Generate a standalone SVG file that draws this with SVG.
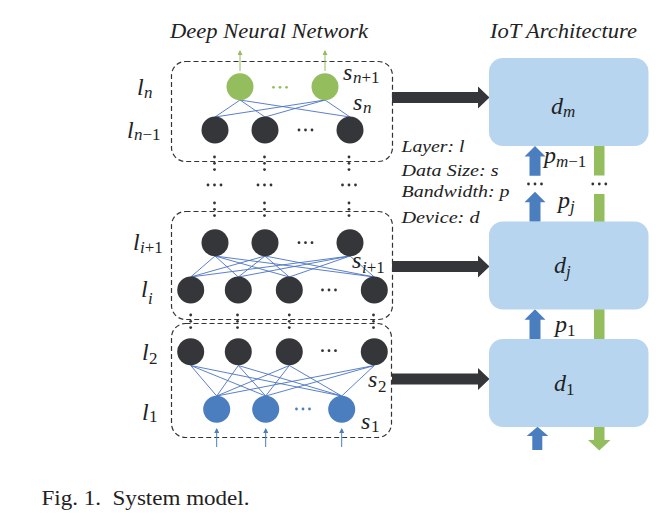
<svg xmlns="http://www.w3.org/2000/svg" width="667" height="529" viewBox="0 0 667 529">
<style>
.dash{fill:none;stroke:#333;stroke-width:1.2;stroke-dasharray:5 3}
.dk{fill:#34363a}
.gr{fill:#94bd5e}
.bl{fill:#4a7ebf}
.dev{fill:#b8d5ef}
.ln{stroke:#4a72c4;stroke-width:0.9;fill:none}
.dt{fill:#333}
.m{font-family:"Liberation Serif","Times New Roman",serif;font-style:italic;font-size:24px;fill:#222}
.sb{font-size:17px}
.up{font-style:normal}
.t{font-family:"Liberation Serif","Times New Roman",serif;font-style:italic;font-size:20px;fill:#222}
.lg{font-family:"Liberation Serif","Times New Roman",serif;font-style:italic;font-size:17px;fill:#222}
.cap{font-family:"Liberation Serif","Times New Roman",serif;font-size:20px;fill:#222}
</style>
<defs>
<marker id="ag" markerWidth="5" markerHeight="5" refX="4" refY="2.5" orient="auto" markerUnits="userSpaceOnUse"><path d="M0,0 L5,2.5 L0,5 Z" fill="#94bd5e"/></marker>
<marker id="ab" markerWidth="5" markerHeight="5" refX="4" refY="2.5" orient="auto" markerUnits="userSpaceOnUse"><path d="M0,0 L5,2.5 L0,5 Z" fill="#4a7ebf"/></marker>
<path id="bigArrow" d="M0,-5.5 H86 V-11 L97.5,0 L86,11 V5.5 H0 Z" fill="#34363a"/>
<g id="vd"><circle cx="0" cy="0" r="1.4"/><circle cx="0" cy="6.3" r="1.4"/><circle cx="0" cy="12.6" r="1.4"/></g>
<g id="hd"><circle cx="-6.5" cy="0" r="1.4"/><circle cx="0" cy="0" r="1.4"/><circle cx="6.5" cy="0" r="1.4"/></g>
</defs>

<text class="t" x="170" y="38" textLength="198" lengthAdjust="spacingAndGlyphs">Deep Neural Network</text>
<text class="t" x="490" y="38" textLength="147" lengthAdjust="spacingAndGlyphs">IoT Architecture</text>

<!-- layer boxes -->
<g id="box-top"><rect class="dash" x="171.5" y="61.5" width="221" height="100" rx="14"/></g>
<g id="box-mid"><rect class="dash" x="171.5" y="211.5" width="221" height="108" rx="14"/></g>
<g id="box-bot"><rect class="dash" x="171.5" y="323.5" width="220" height="114" rx="14"/></g>

<!-- connectors -->
<g id="connectors">
<g class="ln">
<path d="M240,100 L215,117 M240,100 L265,117 M240,100 L350,117 M325,100 L215,117 M325,100 L265,117 M325,100 L350,117"/>
<path d="M215,256 L190.7,277 M215,256 L238.3,277 M215,256 L289.3,277 M215,256 L374.3,277 M265,256 L190.7,277 M265,256 L238.3,277 M265,256 L289.3,277 M265,256 L374.3,277 M350,256 L190.7,277 M350,256 L238.3,277 M350,256 L289.3,277 M350,256 L374.3,277"/>
<path d="M190.7,365.5 L216.7,396 M190.7,365.5 L265.7,396 M190.7,365.5 L341.7,396 M238.3,365.5 L216.7,396 M238.3,365.5 L265.7,396 M238.3,365.5 L341.7,396 M289.3,365.5 L216.7,396 M289.3,365.5 L265.7,396 M289.3,365.5 L341.7,396 M374.3,365.5 L216.7,396 M374.3,365.5 L265.7,396 M374.3,365.5 L341.7,396"/>
</g>
<line x1="240" y1="71" x2="240" y2="51" stroke="#94bd5e" stroke-width="1" marker-end="url(#ag)"/>
<line x1="325" y1="71" x2="325" y2="51" stroke="#94bd5e" stroke-width="1" marker-end="url(#ag)"/>
<line x1="216.7" y1="447" x2="216.7" y2="429" stroke="#4a7ebf" stroke-width="1" marker-end="url(#ab)"/>
<line x1="265.7" y1="447" x2="265.7" y2="429" stroke="#4a7ebf" stroke-width="1" marker-end="url(#ab)"/>
<line x1="341.7" y1="447" x2="341.7" y2="429" stroke="#4a7ebf" stroke-width="1" marker-end="url(#ab)"/>
<g class="dt">
<use href="#vd" x="214.5" y="157"/><use href="#hd" x="214.5" y="185"/><use href="#vd" x="214.5" y="203"/>
<use href="#vd" x="264.5" y="157"/><use href="#hd" x="264.5" y="185"/><use href="#vd" x="264.5" y="203"/>
<use href="#vd" x="349" y="157"/><use href="#hd" x="349" y="185"/><use href="#vd" x="349" y="203"/>
<use href="#vd" x="190.7" y="315"/><use href="#vd" x="237.5" y="315"/><use href="#vd" x="289.3" y="315"/><use href="#vd" x="373.5" y="315"/>
</g>
<use href="#bigArrow" x="392" y="97.5"/>
<use href="#bigArrow" x="392" y="266.5"/>
<use href="#bigArrow" x="392" y="379"/>
<g class="bl">
<path d="M535,146 L545.5,156.5 L540.5,156.5 L540.5,175.7 L529.5,175.7 L529.5,156.5 L524.5,156.5 Z"/>
<path d="M535,191.7 L545.5,202.2 L540.5,202.2 L540.5,221.7 L529.5,221.7 L529.5,202.2 L524.5,202.2 Z"/>
<path d="M535,309.3 L545.5,319.8 L540.5,319.8 L540.5,339 L529.5,339 L529.5,319.8 L524.5,319.8 Z"/>
<path d="M537.5,426.7 L548.3,436 L542.3,436 L542.3,450 L532.3,450 L532.3,436 L526.7,436 Z"/>
</g>
<g class="gr">
<rect x="594" y="146" width="10.5" height="29.5"/>
<rect x="594" y="194" width="10.5" height="28"/>
<rect x="594" y="309" width="10.5" height="30"/>
<path d="M594,427 H604.5 V440 H610.5 L599.25,450.5 L588,440 H594 Z"/>
</g>
<g class="dt">
<use href="#hd" x="535" y="184"/>
<use href="#hd" x="599.3" y="184"/>
</g>
</g>

<!-- DNN nodes -->
<g id="n-out-1"><circle class="gr" cx="240" cy="86.7" r="13.5"/></g>
<g id="n-out-2"><circle class="gr" cx="325" cy="86.7" r="13.5"/></g>
<g fill="#94bd5e"><use href="#hd" x="280" y="87.3"/></g>
<g id="n-ln1-1"><circle class="dk" cx="215" cy="130" r="13.5"/></g>
<g id="n-ln1-2"><circle class="dk" cx="265" cy="130" r="13.5"/></g>
<g id="n-ln1-3"><circle class="dk" cx="350" cy="130" r="13.5"/></g>
<g class="dt"><use href="#hd" x="305.5" y="130"/></g>

<g id="n-li1-1"><circle class="dk" cx="215" cy="242.7" r="13.5"/></g>
<g id="n-li1-2"><circle class="dk" cx="265" cy="242.7" r="13.5"/></g>
<g id="n-li1-3"><circle class="dk" cx="350" cy="242.7" r="13.5"/></g>
<g class="dt"><use href="#hd" x="305.5" y="242.7"/></g>
<g id="n-li-1"><circle class="dk" cx="190.7" cy="290" r="13.5"/></g>
<g id="n-li-2"><circle class="dk" cx="238.3" cy="290" r="13.5"/></g>
<g id="n-li-3"><circle class="dk" cx="289.3" cy="290" r="13.5"/></g>
<g id="n-li-4"><circle class="dk" cx="374.3" cy="290" r="13.5"/></g>
<g class="dt"><use href="#hd" x="329" y="290"/></g>

<g id="n-l2-1"><circle class="dk" cx="190.7" cy="351.7" r="13.5"/></g>
<g id="n-l2-2"><circle class="dk" cx="238.3" cy="351.7" r="13.5"/></g>
<g id="n-l2-3"><circle class="dk" cx="289.3" cy="351.7" r="13.5"/></g>
<g id="n-l2-4"><circle class="dk" cx="374.3" cy="351.7" r="13.5"/></g>
<g class="dt"><use href="#hd" x="329" y="350.7"/></g>
<g id="n-l1-1"><circle class="bl" cx="216.7" cy="409.3" r="13.5"/></g>
<g id="n-l1-2"><circle class="bl" cx="265.7" cy="409.3" r="13.5"/></g>
<g id="n-l1-3"><circle class="bl" cx="341.7" cy="409.3" r="13.5"/></g>
<g fill="#4a7ebf"><use href="#hd" x="303" y="409"/></g>

<!-- devices -->
<g id="dev-m"><rect class="dev" x="489" y="58" width="159.5" height="88" rx="14"/>
<text class="m" x="551" y="114" font-size="26">d<tspan class="sb" x="563" y="117" font-size="18">m</tspan></text></g>
<g id="dev-j"><rect class="dev" x="489" y="221.5" width="159.5" height="88" rx="14"/>
<text class="m" x="554" y="272.5" font-size="26">d<tspan class="sb" x="566" y="277" font-size="18">j</tspan></text></g>
<g id="dev-1"><rect class="dev" x="489" y="339" width="159.5" height="88" rx="14"/>
<text class="m" x="554" y="391" font-size="26">d<tspan class="sb up" x="566" y="395" font-size="18">1</tspan></text></g>

<!-- labels -->
<g id="labels">
<text class="m" x="137" y="95">l<tspan class="sb" x="144" y="97.5">n</tspan></text>
<text class="m" x="127" y="138">l<tspan class="sb" x="134" y="139.5">n<tspan class="up">−1</tspan></tspan></text>
<text class="m" x="343" y="80">s<tspan class="sb" x="353" y="82.5">n<tspan class="up">+1</tspan></tspan></text>
<text class="m" x="353" y="110">s<tspan class="sb" x="363" y="113">n</tspan></text>
<text class="m" x="133" y="250">l<tspan class="sb" x="140" y="253">i<tspan class="up">+1</tspan></tspan></text>
<text class="m" x="141" y="297">l<tspan class="sb" x="148" y="304">i</tspan></text>
<text class="m" x="352" y="268">s<tspan class="sb" x="362" y="273">i<tspan class="up">+1</tspan></tspan></text>
<text class="m" x="142" y="360">l<tspan class="sb up" x="149" y="363.5">2</tspan></text>
<text class="m" x="142" y="420">l<tspan class="sb up" x="149" y="422">1</tspan></text>
<text class="m" x="368" y="387">s<tspan class="sb up" x="378" y="392">2</tspan></text>
<text class="m" x="361" y="428.5">s<tspan class="sb up" x="371" y="432">1</tspan></text>
<text class="m" x="544" y="163">p<tspan class="sb" x="556" y="166.5">m<tspan class="up">−1</tspan></tspan></text>
<text class="m" x="558" y="208">p<tspan class="sb" x="570" y="212">j</tspan></text>
<text class="m" x="555" y="331.5">p<tspan class="sb up" x="567" y="335.5">1</tspan></text>
</g>

<g id="legend">
<text class="lg" x="401.5" y="151.5" textLength="63" lengthAdjust="spacingAndGlyphs">Layer: l</text>
<text class="lg" x="401.5" y="175.5" textLength="97" lengthAdjust="spacingAndGlyphs">Data Size: s</text>
<text class="lg" x="401.5" y="197" textLength="108" lengthAdjust="spacingAndGlyphs">Bandwidth: p</text>
<text class="lg" x="401.5" y="222.5" textLength="78" lengthAdjust="spacingAndGlyphs">Device: d</text>
</g>

<text class="cap" x="41.5" y="505" xml:space="preserve" textLength="208" lengthAdjust="spacingAndGlyphs">Fig. 1.  System model.</text>
</svg>
